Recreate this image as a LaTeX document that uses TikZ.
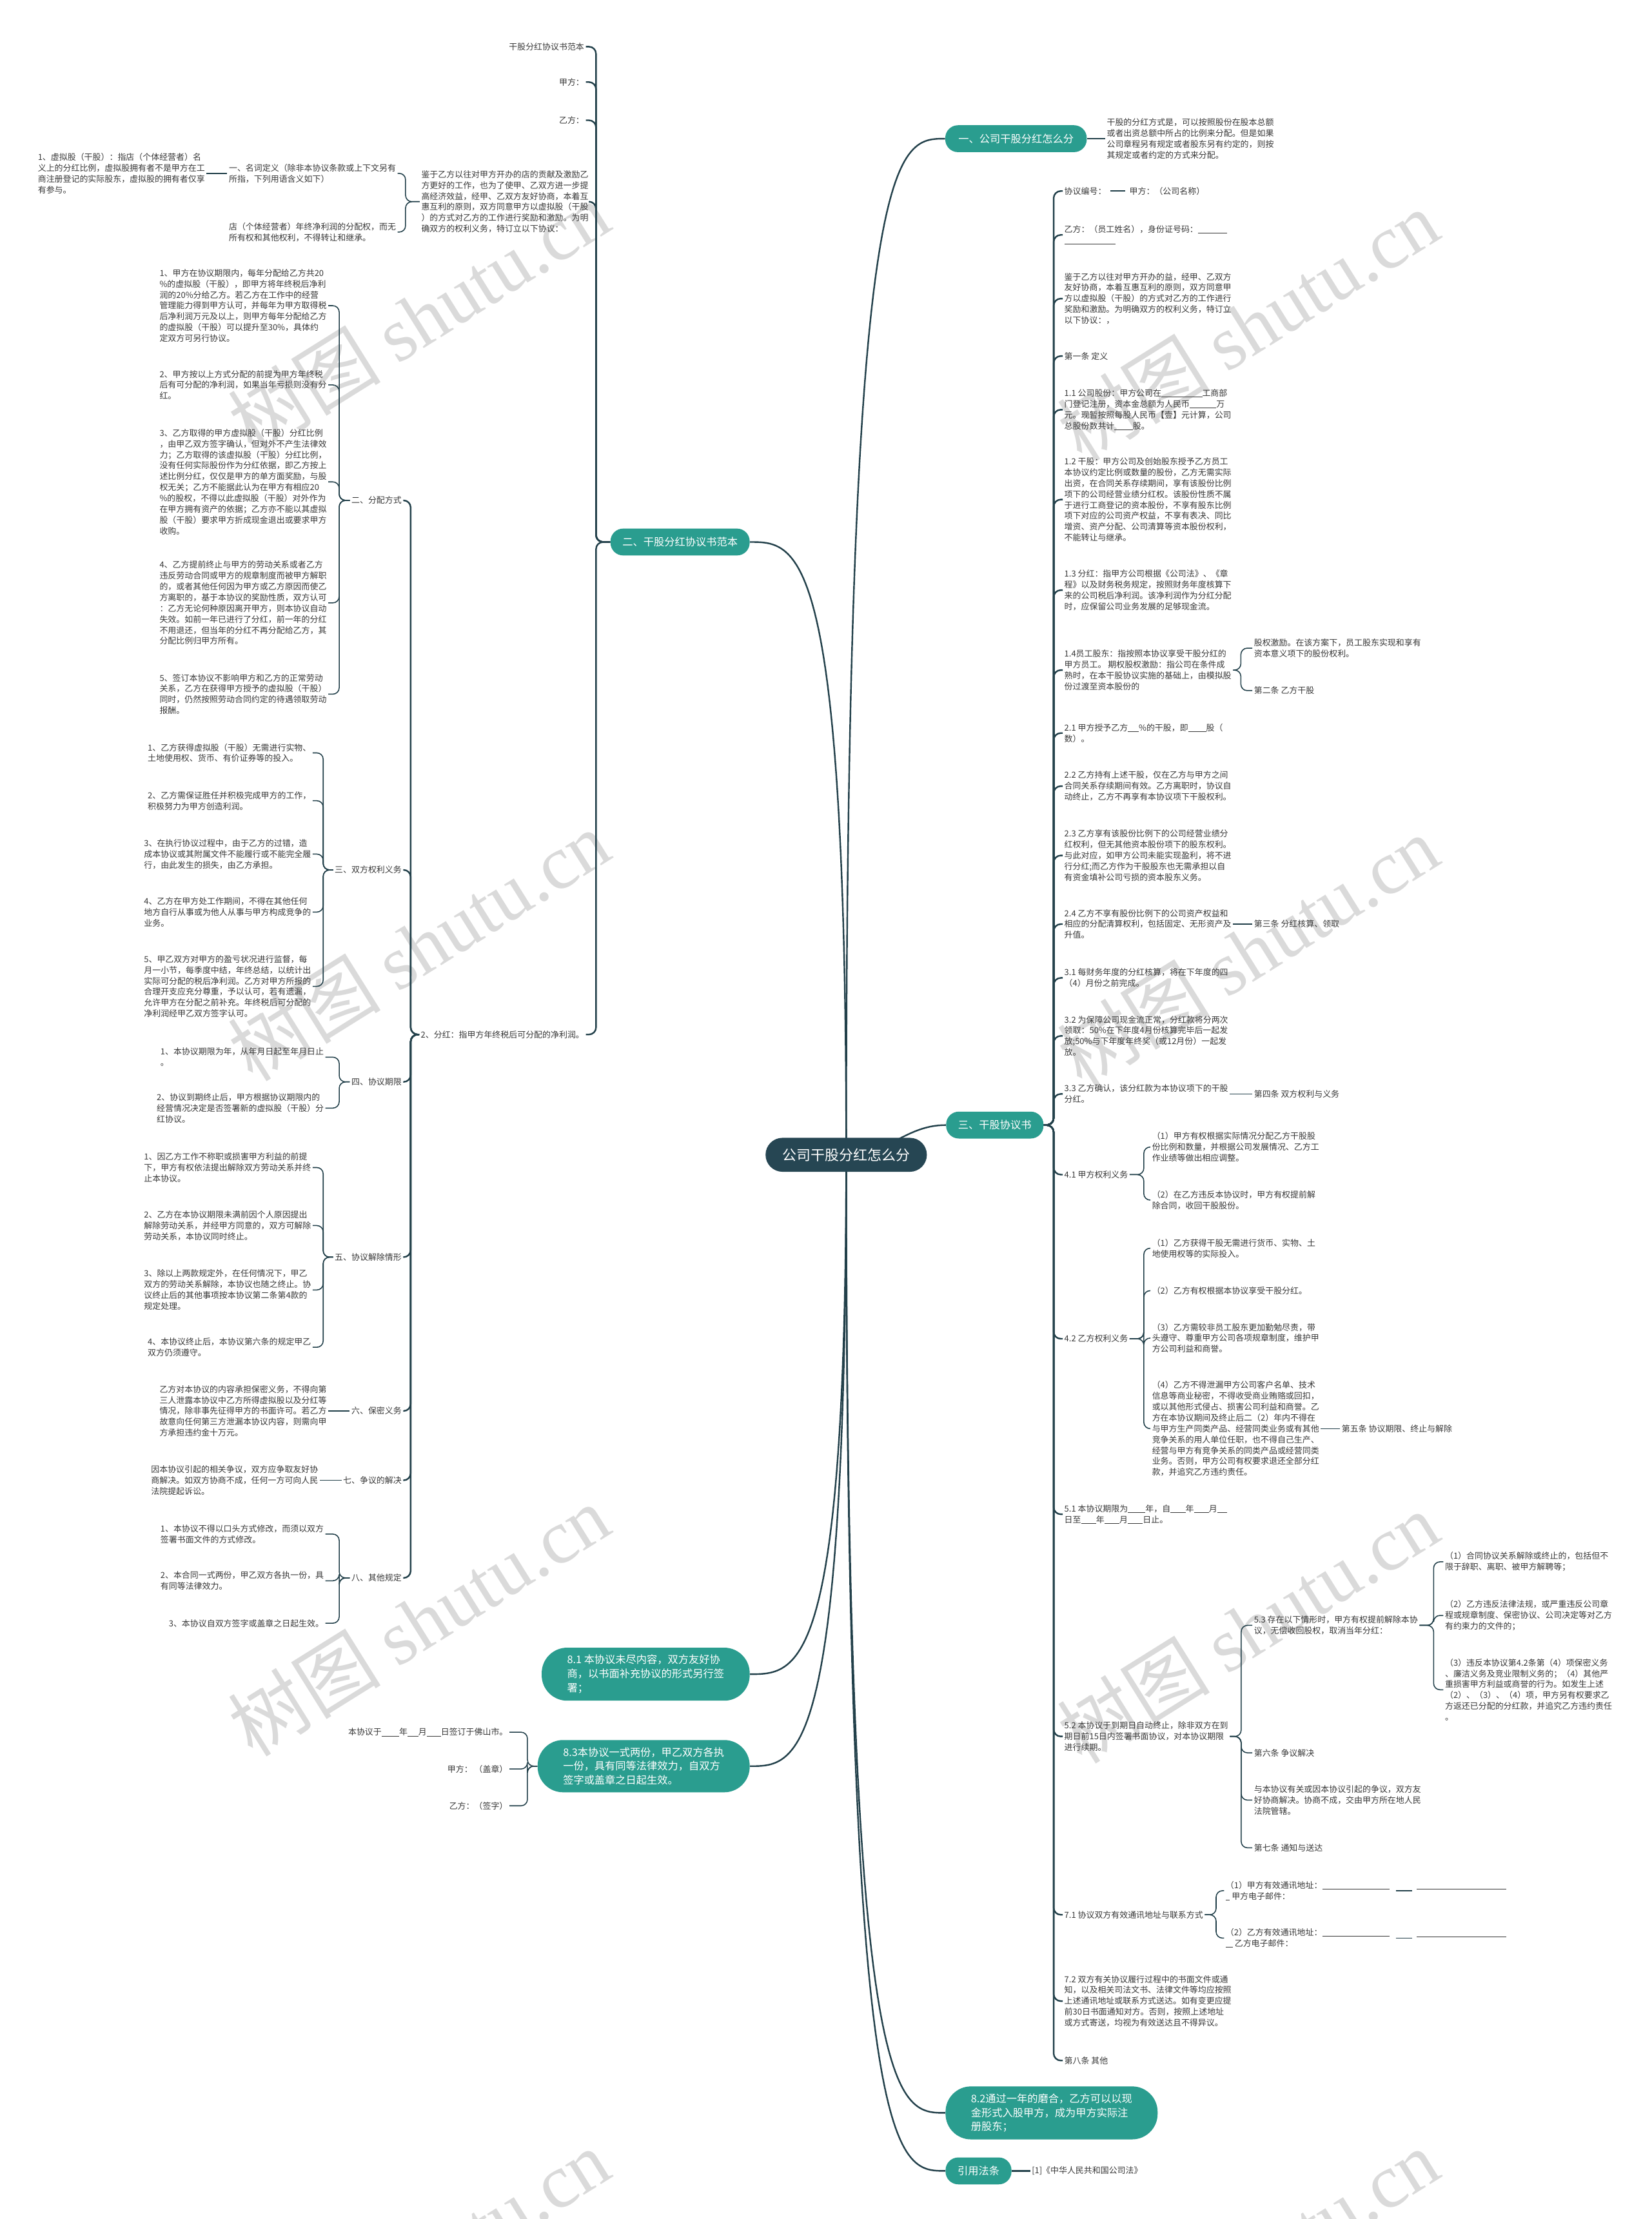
\documentclass[tikz,border=0pt]{standalone}
\usepackage{fontspec}
\setmainfont{Noto Sans CJK SC}
\newfontfamily\wmlatin{Liberation Serif}
\usetikzlibrary{calc}
\pgfdeclarelayer{bg}
\pgfdeclarelayer{edges}
\pgfsetlayers{bg,edges,main}
\definecolor{tealc}{HTML}{2A9D8F}
\definecolor{rootc}{HTML}{264653}
\definecolor{linec}{HTML}{22404A}
\definecolor{textc}{HTML}{383838}
\definecolor{wmc}{HTML}{DADADA}
\newcommand\ublank[1]{\rule[-0.11em]{#1em}{0.06em}}
\begin{document}
\begin{tikzpicture}[x=1pt,y=-1pt,
 txtb/.style={font=\fontsize{5.9pt}{7.7pt}\selectfont, text=textc, align=left, inner sep=1pt},
 txtl/.style={txtb, anchor=west},
 txtr/.style={txtb, anchor=east},
 brn/.style={fill=tealc, text=white, font=\fontsize{7.4pt}{10pt}\selectfont, align=left, inner xsep=8.5pt, inner ysep=3pt, minimum height=19pt, rounded corners=9pt},
 brnm/.style={brn, inner xsep=18pt, inner ysep=5pt, rounded corners=18pt},
 rootn/.style={fill=rootc, text=white, font=\fontsize{10pt}{12pt}\selectfont, inner xsep=12pt, minimum height=24pt, rounded corners=12pt},
 consub/.style={draw=linec, line width=0.7pt, rounded corners=4.5pt},
 conmain/.style={draw=linec, line width=1.1pt, rounded corners=5pt},
 conroot/.style={draw=linec, line width=1.1pt},
 wmark/.style={text=wmc, font=\fontsize{54pt}{54pt}\selectfont, rotate=32, inner sep=0pt},
]
\path[use as bounding box] (0,0) rectangle (1167,1568);
\begin{pgfonlayer}{bg}
\fill[white] (0,0) rectangle (1167,1568);
\node[wmark] (w1) at (296,224) {树图 {\wmlatin shutu.cn}};
\node[wmark] (w2) at (882,230) {树图 {\wmlatin shutu.cn}};
\node[wmark] (w3) at (296,668) {树图 {\wmlatin shutu.cn}};
\node[wmark] (w4) at (882,672) {树图 {\wmlatin shutu.cn}};
\node[wmark] (w5) at (296,1145) {树图 {\wmlatin shutu.cn}};
\node[wmark] (w6) at (882,1150) {树图 {\wmlatin shutu.cn}};
\node[wmark] (w7) at (296,1600) {树图 {\wmlatin shutu.cn}};
\node[wmark] (w8) at (882,1600) {树图 {\wmlatin shutu.cn}};
\end{pgfonlayer}

% root and main branches
\node[rootn] (root) at (598,816) {公司干股分红怎么分};
\node[brn, minimum width=100pt] (b1) at (718,98) {一、公司干股分红怎么分};
\node[brn] (b3) at (703,795) {三、干股协议书};
\node[brnm, anchor=west] (b82) at (668,1493) {8.2通过一年的磨合，乙方可以以现\\金形式入股甲方，成为甲方实际注\\册股东；};
\node[brn, anchor=west] (bref) at (668,1534) {引用法条};
\node[brn, anchor=east] (b2) at (530,383) {二、干股分红协议书范本};
\node[brnm, anchor=east] (b81) at (530,1183) {8.1 本协议未尽内容，双方友好协\\商，以书面补充协议的形式另行签\\署；};
\node[brnm, anchor=east] (b83) at (530,1248) {8.3本协议一式两份，甲乙双方各执\\一份，具有同等法律效力，自双方\\签字或盖章之日起生效。};

% ---------- left branch 二 ----------
\node[txtr] (l1) at (414,33) {干股分红协议书范本};
\node[txtr] (l2) at (414,58) {甲方：};
\node[txtr] (l3) at (414,85) {乙方：};
\node[txtr] (l4) at (417,142.5) {鉴于乙方以往对甲方开办的店的贡献及激励乙\\方更好的工作，也为了使甲、乙双方进一步提\\高经济效益，经甲、乙双方友好协商，本着互\\惠互利的原则，双方同意甲方以虚拟股（干股\\）的方式对乙方的工作进行奖励和激励。为明\\确双方的权利义务，特订立以下协议：};
\node[txtr] (l41) at (281,122.5) {一、名词定义（除非本协议条款或上下文另有\\所指，下列用语含义如下）};
\node[txtr] (l42) at (281,164) {店（个体经营者）年终净利润的分配权，而无\\所有权和其他权利，不得转让和继承。};
\node[txtr] (l411) at (146,122.5) {1、虚拟股（干股）：指店（个体经营者）名\\义上的分红比例，虚拟股拥有者不是甲方在工\\商注册登记的实际股东，虚拟股的拥有者仅享\\有参与。};
\node[txtr] (l5) at (414,731) {2、分红：指甲方年终税后可分配的净利润。};

\node[txtr] (a1) at (285,353.6) {二、分配方式};
\node[txtr] (a2) at (285,614.7) {三、双方权利义务};
\node[txtr] (a3) at (285,764.5) {四、协议期限};
\node[txtr] (a4) at (285,888.3) {五、协议解除情形};
\node[txtr] (a5) at (285,997) {六、保密义务};
\node[txtr] (a6) at (285,1046) {七、争议的解决};
\node[txtr] (a7) at (285,1115) {八、其他规定};

\node[txtr] (a11) at (232,216) {1、甲方在协议期限内，每年分配给乙方共20\\\%的虚拟股（干股），即甲方将年终税后净利\\润的20\%分给乙方。若乙方在工作中的经营\\管理能力得到甲方认可，并每年为甲方取得税\\后净利润万元及以上，则甲方每年分配给乙方\\的虚拟股（干股）可以提升至30\%，具体约\\定双方可另行协议。};
\node[txtr] (a12) at (232,272) {2、甲方按以上方式分配的前提为甲方年终税\\后有可分配的净利润，如果当年亏损则没有分\\红。};
\node[txtr] (a13) at (232,340.5) {3、乙方取得的甲方虚拟股（干股）分红比例\\，由甲乙双方签字确认，但对外不产生法律效\\力；乙方取得的该虚拟股（干股）分红比例，\\没有任何实际股份作为分红依据，即乙方按上\\述比例分红，仅仅是甲方的单方面奖励，与股\\权无关；乙方不能据此认为在甲方有相应20\\\%的股权，不得以此虚拟股（干股）对外作为\\在甲方拥有资产的依据；乙方亦不能以其虚拟\\股（干股）要求甲方折成现金退出或要求甲方\\收购。};
\node[txtr] (a14) at (232,426) {4、乙方提前终止与甲方的劳动关系或者乙方\\违反劳动合同或甲方的规章制度而被甲方解职\\的，或者其他任何因为甲方或乙方原因而使乙\\方离职的，基于本协议的奖励性质，双方认可\\：乙方无论何种原因离开甲方，则本协议自动\\失效。如前一年已进行了分红，前一年的分红\\不用退还，但当年的分红不再分配给乙方，其\\分配比例归甲方所有。};
\node[txtr] (a15) at (232,490.5) {5、签订本协议不影响甲方和乙方的正常劳动\\关系，乙方在获得甲方授予的虚拟股（干股）\\同时，仍然按照劳动合同约定的待遇领取劳动\\报酬。};

\node[txtr] (a21) at (221,532) {1、乙方获得虚拟股（干股）无需进行实物、\\土地使用权、货币、有价证券等的投入。};
\node[txtr] (a22) at (221,565.8) {2、乙方需保证胜任并积极完成甲方的工作，\\积极努力为甲方创造利润。};
\node[txtr] (a23) at (221,603.5) {3、在执行协议过程中，由于乙方的过错，造\\成本协议或其附属文件不能履行或不能完全履\\行，由此发生的损失，由乙方承担。};
\node[txtr] (a24) at (221,644.5) {4、乙方在甲方处工作期间，不得在其他任何\\地方自行从事或为他人从事与甲方构成竞争的\\业务。};
\node[txtr] (a25) at (221,697) {5、甲乙双方对甲方的盈亏状况进行监督，每\\月一小节，每季度中结，年终总结，以统计出\\实际可分配的税后净利润。乙方对甲方所报的\\合理开支应充分尊重，予以认可，若有遗漏，\\允许甲方在分配之前补充。年终税后可分配的\\净利润经甲乙双方签字认可。};

\node[txtr] (a31) at (230,747) {1、本协议期限为年，从年月日起至年月日止\\。};
\node[txtr] (a32) at (230,783) {2、协议到期终止后，甲方根据协议期限内的\\经营情况决定是否签署新的虚拟股（干股）分\\红协议。};

\node[txtr] (a41) at (221,825) {1、因乙方工作不称职或损害甲方利益的前提\\下，甲方有权依法提出解除双方劳动关系并终\\止本协议。};
\node[txtr] (a42) at (221,866) {2、乙方在本协议期限未满前因个人原因提出\\解除劳动关系，并经甲方同意的，双方可解除\\劳动关系，本协议同时终止。};
\node[txtr] (a43) at (221,911.5) {3、除以上两款规定外，在任何情况下，甲乙\\双方的劳动关系解除，本协议也随之终止。协\\议终止后的其他事项按本协议第二条第4款的\\规定处理。};
\node[txtr] (a44) at (221,952) {4、本协议终止后，本协议第六条的规定甲乙\\双方仍须遵守。};

\node[txtr] (a51) at (232,997) {乙方对本协议的内容承担保密义务，不得向第\\三人泄露本协议中乙方所得虚拟股以及分红等\\情况，除非事先征得甲方的书面许可。若乙方\\故意向任何第三方泄漏本协议内容，则需向甲\\方承担违约金十万元。};
\node[txtr] (a61) at (226,1046) {因本协议引起的相关争议，双方应争取友好协\\商解决。如双方协商不成，任何一方可向人民\\法院提起诉讼。};

\node[txtr] (a71) at (230,1084) {1、本协议不得以口头方式修改，而须以双方\\签署书面文件的方式修改。};
\node[txtr] (a72) at (230,1117) {2、本合同一式两份，甲乙双方各执一份，具\\有同等法律效力。};
\node[txtr] (a73) at (230,1147) {3、本协议自双方签字或盖章之日起生效。};

% 8.3 children
\node[txtr] (s1) at (360,1224) {本协议于\ublank{2.1}年\ublank{1.3}月\ublank{1.7}日签订于佛山市。};
\node[txtr] (s2) at (360,1250) {甲方： （盖章）};
\node[txtr] (s3) at (360,1276) {乙方：（签字）};

% ---------- right branch 一 ----------
\node[txtl] (r0) at (781,98) {干股的分红方式是，可以按照股份在股本总额\\或者出资总额中所占的比例来分配。但是如果\\公司章程另有规定或者股东另有约定的，则按\\其规定或者约定的方式来分配。};

% ---------- right branch 三 ----------
\node[txtl] (r1) at (751,135) {协议编号：};
\node[txtl] (r1a) at (797,135) {甲方：（公司名称）};
\node[txtl] (r2) at (751,166) {乙方：（员工姓名），身份证号码：\ublank{3.5}\\\ublank{6.1}};
\node[txtl] (r3) at (751,211) {鉴于乙方以往对甲方开办的益，经甲、乙双方\\友好协商，本着互惠互利的原则，双方同意甲\\方以虚拟股（干股）的方式对乙方的工作进行\\奖励和激励。为明确双方的权利义务，特订立\\以下协议：，};
\node[txtl] (r4) at (751,251.6) {第一条 定义};
\node[txtl] (r5) at (751,289.5) {1.1 公司股份：甲方公司在\ublank{4.9}工商部\\门登记注册，资本金总额为人民币\ublank{3.2}万\\元。现暂按照每股人民币【壹】元计算，公司\\总股份数共计\ublank{2.2}股。};
\node[txtl] (r6) at (751,353) {1.2 干股：甲方公司及创始股东授予乙方员工\\本协议约定比例或数量的股份，乙方无需实际\\出资，在合同关系存续期间，享有该股份比例\\项下的公司经营业绩分红权。该股份性质不属\\于进行工商登记的资本股份，不享有股东比例\\项下对应的公司资产权益，不享有表决、同比\\增资、资产分配、公司清算等资本股份权利，\\不能转让与继承。};
\node[txtl] (r7) at (751,417) {1.3 分红：指甲方公司根据《公司法》、《章\\程》以及财务税务规定，按照财务年度核算下\\来的公司税后净利润。该净利润作为分红分配\\时，应保留公司业务发展的足够现金流。};
\node[txtl] (r8) at (751,473.5) {1.4员工股东：指按照本协议享受干股分红的\\甲方员工。 期权股权激励：指公司在条件成\\熟时，在本干股协议实施的基础上，由模拟股\\份过渡至资本股份的};
\node[txtl] (r8a) at (885,458) {股权激励。在该方案下，员工股东实现和享有\\资本意义项下的股份权利。};
\node[txtl] (r8b) at (885,488) {第二条 乙方干股};
\node[txtl] (r9) at (751,518) {2.1 甲方授予乙方\ublank{1.3}\%的干股，即\ublank{2.15}股（\\数）。};
\node[txtl] (r10) at (751,555.5) {2.2 乙方持有上述干股，仅在乙方与甲方之间\\合同关系存续期间有效。乙方离职时，协议自\\动终止，乙方不再享有本协议项下干股权利。};
\node[txtl] (r11) at (751,604.5) {2.3 乙方享有该股份比例下的公司经营业绩分\\红权利，但无其他资本股份项下的股东权利。\\与此对应，如甲方公司未能实现盈利，将不进\\行分红;而乙方作为干股股东也无需承担以自\\有资金填补公司亏损的资本股东义务。};
\node[txtl] (r12) at (751,653) {2.4 乙方不享有股份比例下的公司资产权益和\\相应的分配清算权利，包括固定、无形资产及\\升值。};
\node[txtl] (r12a) at (885,653) {第三条 分红核算、领取};
\node[txtl] (r13) at (751,691) {3.1 每财务年度的分红核算，将在下年度的四\\（4）月份之前完成。};
\node[txtl] (r14) at (751,732) {3.2 为保障公司现金流正常，分红款将分两次\\领取：50\%在下年度4月份核算完毕后一起发\\放;50\%与下年度年终奖（或12月份）一起发\\放。};
\node[txtl] (r15) at (751,773) {3.3 乙方确认，该分红款为本协议项下的干股\\分红。};
\node[txtl] (r15a) at (885,773) {第四条 双方权利与义务};
\node[txtl] (r16) at (751,830) {4.1 甲方权利义务};
\node[txtl] (r16a) at (813,810.5) {（1）甲方有权根据实际情况分配乙方干股股\\份比例和数量，并根据公司发展情况、乙方工\\作业绩等做出相应调整。};
\node[txtl] (r16b) at (813,848) {（2）在乙方违反本协议时，甲方有权提前解\\除合同，收回干股股份。};
\node[txtl] (r17) at (751,946) {4.2 乙方权利义务};
\node[txtl] (r17a) at (813,882) {（1）乙方获得干股无需进行货币、实物、土\\地使用权等的实际投入。};
\node[txtl] (r17b) at (813,912) {（2）乙方有权根据本协议享受干股分红。};
\node[txtl] (r17c) at (813,945.5) {（3）乙方需较非员工股东更加勤勉尽责，带\\头遵守、尊重甲方公司各项规章制度，维护甲\\方公司利益和商誉。};
\node[txtl] (r17d) at (813,1009.5) {（4）乙方不得泄漏甲方公司客户名单、技术\\信息等商业秘密，不得收受商业贿赂或回扣，\\或以其他形式侵占、损害公司利益和商誉。乙\\方在本协议期间及终止后二（2）年内不得在\\与甲方生产同类产品、经营同类业务或有其他\\竞争关系的用人单位任职，也不得自己生产、\\经营与甲方有竞争关系的同类产品或经营同类\\业务。否则，甲方公司有权要求退还全部分红\\款，并追究乙方违约责任。};
\node[txtl] (r17e) at (947,1009.5) {第五条 协议期限、终止与解除};
\node[txtl] (r18) at (751,1070) {5.1 本协议期限为\ublank{2.1}年，自\ublank{1.8}年\ublank{1.8}月\ublank{1.2}\\日至\ublank{1.8}年\ublank{1.8}月\ublank{1.8}日止。};
\node[txtl] (r19) at (751,1227) {5.2 本协议于到期日自动终止，除非双方在到\\期日前15日内签署书面协议，对本协议期限\\进行续期。};
\node[txtl] (r19a) at (885,1148.5) {5.3 存在以下情形时，甲方有权提前解除本协\\议，无偿收回股权，取消当年分红：};
\node[txtl] (r19a1) at (1020,1103.6) {（1）合同协议关系解除或终止的，包括但不\\限于辞职、离职、被甲方解聘等；};
\node[txtl] (r19a2) at (1020,1141.5) {（2）乙方违反法律法规，或严重违反公司章\\程或规章制度、保密协议、公司决定等对乙方\\有约束力的文件的；};
\node[txtl] (r19a3) at (1020,1194) {（3）违反本协议第4.2条第（4）项保密义务\\、廉洁义务及竞业限制义务的；（4）其他严\\重损害甲方利益或商誉的行为。如发生上述\\（2）、（3）、（4）项，甲方另有权要求乙\\方返还已分配的分红款，并追究乙方违约责任\\。};
\node[txtl] (r19b) at (885,1238.6) {第六条 争议解决};
\node[txtl] (r19c) at (885,1272) {与本协议有关或因本协议引起的争议，双方友\\好协商解决。协商不成，交由甲方所在地人民\\法院管辖。};
\node[txtl] (r19d) at (885,1305.7) {第七条 通知与送达};
\node[txtl] (r20) at (751,1353) {7.1 协议双方有效通讯地址与联系方式};
\node[txtl] (r20a) at (865,1336) {（1）甲方有效通讯地址：\ublank{8.1}\\\ublank{0.5} 甲方电子邮件：};
\node[txtb, anchor=base west] (r20au) at (1000,1334.5) {\ublank{10.7}};
\node[txtl] (r20b) at (865,1369.5) {（2）乙方有效通讯地址：\ublank{8.1}\\\ublank{0.85} 乙方电子邮件：};
\node[txtb, anchor=base west] (r20bu) at (1000,1368) {\ublank{10.7}};
\node[txtl] (r21) at (751,1414) {7.2 双方有关协议履行过程中的书面文件或通\\知，以及相关司法文书、法律文件等均应按照\\上述通讯地址或联系方式送达。如有变更应提\\前30日书面通知对方。否则，按照上述地址\\或方式寄送，均视为有效送达且不得异议。};
\node[txtl] (r22) at (751,1456) {第八条 其他};
\node[txtl] (rf) at (728,1534) {[1]《中华人民共和国公司法》};

\begin{pgfonlayer}{edges}
% root curves
\draw[conroot] (root.center) .. controls (598,98) and (633,98) .. (b1.west);
\draw[conroot] (root.center) .. controls (628,816) and (640,795) .. (b3.west);
\draw[conroot] (root.center) .. controls (598,1493) and (633,1493) .. (b82.west);
\draw[conroot] (root.center) .. controls (598,1534) and (633,1534) .. (bref.west);
\draw[conroot] (root.center) .. controls (598,383) and (564,383) .. (b2.east);
\draw[conroot] (root.center) .. controls (598,1183) and (564,1183) .. (b81.east);
\draw[conroot] (root.center) .. controls (598,1248) and (564,1248) .. (b83.east);

% branch 一 / 引用法条
\draw[conmain] (b1.east) -- (r0.west);
\draw[conmain] (bref.east) -- (rf.west);

% branch 二
\foreach \c in {l1,l2,l3,l4,l5} \draw[conmain] (b2.west) -- ++(-10,0) |- (\c.east);
\foreach \c in {l41,l42} \draw[consub] (l4.west) -- ++(-10,0) |- (\c.east);
\draw[consub] (l411.east) -- (l41.west);
\foreach \c in {a1,a2,a3,a4,a5,a6,a7} \draw[conmain] (l5.west) -- ++(-6,0) |- (\c.east);
\foreach \c in {a11,a12,a13,a14,a15} \draw[consub] (a1.west) -- ++(-7.5,0) |- (\c.east);
\foreach \c in {a21,a22,a23,a24,a25} \draw[consub] (a2.west) -- ++(-7,0) |- (\c.east);
\foreach \c in {a31,a32} \draw[consub] (a3.west) -- ++(-7.5,0) |- (\c.east);
\foreach \c in {a41,a42,a43,a44} \draw[consub] (a4.west) -- ++(-7,0) |- (\c.east);
\draw[consub] (a5.west) -- (a51.east);
\draw[consub] (a6.west) -- (a61.east);
\foreach \c in {a71,a72,a73} \draw[consub] (a7.west) -- ++(-7.5,0) |- (\c.east);
\foreach \c in {s1,s2,s3} \draw[consub] (b83.west) -- ++(-7,0) |- (\c.east);

% branch 三
\foreach \c in {r1,r2,r3,r4,r5,r6,r7,r8,r9,r10,r11,r12,r13,r14,r15,r16,r17,r18,r19,r20,r21,r22}
  \draw[conmain] (b3.east) -- ++(7,0) |- (\c.west);
\draw[consub, shorten <=2pt, shorten >=2pt] (r1.east) -- (r1a.west);
\foreach \c in {r8a,r8b} \draw[consub] (r8.east) -- ++(5.5,0) |- (\c.west);
\draw[consub] (r12.east) -- (r12.east -| r12a.west);
\draw[consub] (r15.east) -- (r15.east -| r15a.west);
\foreach \c in {r16a,r16b} \draw[consub] (r16.east) -- ++(10,0) |- (\c.west);
\foreach \c in {r17a,r17b,r17c,r17d} \draw[consub] (r17.east) -- ++(10,0) |- (\c.west);
\draw[consub] (r17d.east) -- (r17d.east -| r17e.west);
\foreach \c in {r19a,r19b,r19c,r19d} \draw[consub] (r19.east) -- ++(8,0) |- (\c.west);
\foreach \c in {r19a1,r19a2,r19a3} \draw[consub] (r19a.east) -- ++(10,0) |- (\c.west);
\foreach \c in {r20a,r20b} \draw[consub] (r20.east) -- ++(8,0) |- (\c.west);
\draw[consub, shorten <=3pt, shorten >=2pt] (r20a.east) -- (r20a.east -| r20au.west);
\draw[consub, shorten <=3pt, shorten >=2pt] (r20b.east) -- (r20b.east -| r20bu.west);
\end{pgfonlayer}
\end{tikzpicture}
\end{document}
